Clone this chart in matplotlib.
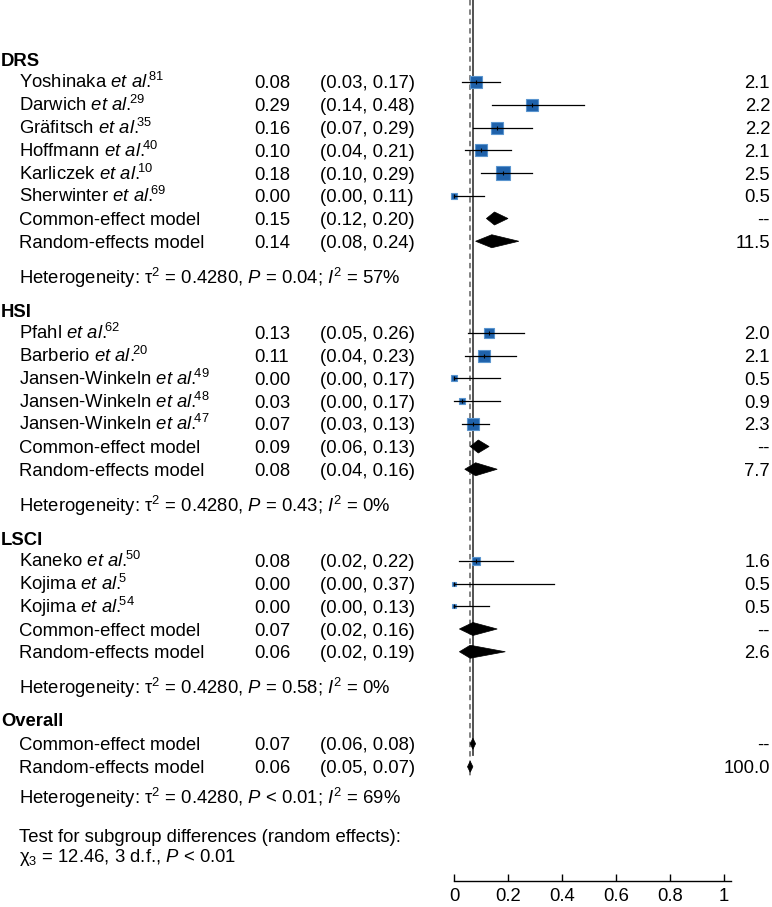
import matplotlib
matplotlib.use("Agg")
import matplotlib.pyplot as plt
from matplotlib.patches import Polygon

plt.rcParams['font.family'] = ['Liberation Sans', 'DejaVu Sans']
plt.rcParams['font.size'] = 13.3
plt.rcParams['mathtext.fontset'] = 'custom'
plt.rcParams['mathtext.rm'] = 'Liberation Sans'
plt.rcParams['mathtext.it'] = 'Liberation Sans:italic'
plt.rcParams['mathtext.bf'] = 'Liberation Sans:bold'

# ---------------- data ----------------
group_names = ['DRS', 'HSI', 'LSCI']

drs_authors = ['Yoshinaka', 'Darwich', 'Gräfitsch', 'Hoffmann', 'Karliczek', 'Sherwinter']
drs_refs = [81, 29, 35, 40, 10, 69]
drs_est = [0.08, 0.29, 0.16, 0.10, 0.18, 0.00]
drs_lo = [0.03, 0.14, 0.07, 0.04, 0.10, 0.00]
drs_hi = [0.17, 0.48, 0.29, 0.21, 0.29, 0.11]
drs_weight = [2.1, 2.2, 2.2, 2.1, 2.5, 0.5]
drs_box = [6.3, 6.3, 6.0, 6.0, 11.1, 1.6]

hsi_authors = ['Pfahl', 'Barberio', 'Jansen-Winkeln', 'Jansen-Winkeln', 'Jansen-Winkeln']
hsi_refs = [62, 20, 49, 48, 47]
hsi_est = [0.13, 0.11, 0.00, 0.03, 0.07]
hsi_lo = [0.05, 0.04, 0.00, 0.00, 0.03]
hsi_hi = [0.26, 0.23, 0.17, 0.17, 0.13]
hsi_weight = [2.0, 2.1, 0.5, 0.9, 2.3]
hsi_box = [5.7, 6.0, 1.6, 1.6, 8.0]

lsci_authors = ['Kaneko', 'Kojima', 'Kojima']
lsci_refs = [50, 5, 54]
lsci_est = [0.08, 0.00, 0.00]
lsci_lo = [0.02, 0.00, 0.00]
lsci_hi = [0.22, 0.37, 0.13]
lsci_weight = [1.6, 0.5, 0.5]
lsci_box = [2.9, 1.2, 1.2]

# common-effect / random-effects summaries: DRS, HSI, LSCI, Overall
common_est = [0.15, 0.09, 0.07, 0.07]
common_lo = [0.12, 0.06, 0.02, 0.06]
common_hi = [0.20, 0.13, 0.16, 0.08]
random_est = [0.14, 0.08, 0.06, 0.06]
random_lo = [0.08, 0.04, 0.02, 0.05]
random_hi = [0.24, 0.16, 0.19, 0.07]
random_weight = ['11.5', '7.7', '2.6', '100.0']
het_tau2 = ['0.4280', '0.4280', '0.4280', '0.4280']
het_p = ['= 0.04', '= 0.43', '= 0.58', '< 0.01']
het_i2 = ['57%', '0%', '0%', '69%']

subgroup_chi = '12.46'
subgroup_df = 3
subgroup_p = '< 0.01'

x_ticks = [0, 0.2, 0.4, 0.6, 0.8, 1]
x_ticklabels = ['0', '0.2', '0.4', '0.6', '0.8', '1']

groups = [
    (drs_authors, drs_refs, drs_est, drs_lo, drs_hi, drs_weight, drs_box),
    (hsi_authors, hsi_refs, hsi_est, hsi_lo, hsi_hi, hsi_weight, hsi_box),
    (lsci_authors, lsci_refs, lsci_est, lsci_lo, lsci_hi, lsci_weight, lsci_box),
]

# ---------------- layout ----------------
W, H = 772, 907
fig = plt.figure(figsize=(W / 100, H / 100), dpi=100)

ax_t = fig.add_axes([0, 0, 1, 1])
ax_t.set_xlim(0, W)
ax_t.set_ylim(H, 0)
ax_t.axis('off')

ax_left_px, ax_right_px, ax_bottom_px = 454, 731, 881
px_per_unit = 270.0
ax = fig.add_axes([ax_left_px / W, (H - ax_bottom_px) / H,
                   (ax_right_px - ax_left_px) / W, ax_bottom_px / H])
ax.set_xlim(0, (ax_right_px - ax_left_px) / px_per_unit)
ax.set_ylim(ax_bottom_px, 0)
ax.patch.set_visible(False)
for s in ['left', 'right', 'top']:
    ax.spines[s].set_visible(False)
ax.spines['bottom'].set_linewidth(1.0)
ax.set_yticks([])
ax.set_xticks(x_ticks)
ax.set_xticklabels(x_ticklabels, fontsize=13.3)
ax.tick_params(axis='x', direction='in', length=5, width=1, pad=5)

X_NAME, X_HEAD, X_EST, X_CI, X_W = 19, 1, 254, 320, 770
STEP = 22.75
BASE = 6.5   # baseline offset from row center
DH = 6.5     # diamond half height
BOX_K = 4.5  # px per sqrt(weight)
BOX_FACE = '#1f62ab'
BOX_EDGE = '#5a95cf'


def row_text(y, label, est, lo, hi, wtxt, indent=True, bold=False):
    ax_t.text(X_NAME if indent else X_HEAD, y + BASE, label, ha='left', va='baseline',
              fontweight='bold' if bold else 'normal')
    if est is not None:
        ax_t.text(X_EST, y + BASE, f'{est:.2f}', ha='left', va='baseline')
        ax_t.text(X_CI, y + BASE, f'({lo:.2f}, {hi:.2f})', ha='left', va='baseline')
    if wtxt is not None:
        ax_t.text(X_W, y + BASE, wtxt, ha='right', va='baseline')


def diamond(y, est, lo, hi, h=DH):
    ax.add_patch(Polygon([(lo, y), (est, y - h), (hi, y), (est, y + h)],
                         closed=True, facecolor='black', edgecolor='black',
                         linewidth=0.5, clip_on=False, zorder=4))


y = 59.5
for gi, (authors, refs, est, lo, hi, wts, box) in enumerate(groups):
    row_text(y, group_names[gi], None, None, None, None, indent=False, bold=True)
    y += 22.5
    for a, r, e, l, h, w, b in zip(authors, refs, est, lo, hi, wts, box):
        label = a + r' $\mathit{et\ al.}\!\!{}^{' + str(r) + '}$'
        row_text(y, label, e, l, h, f'{w:.1f}')
        side = BOX_K * b ** 0.5
        ax.plot([e], [y], marker='s', markersize=side * 0.72, color=BOX_FACE,
                markeredgecolor=BOX_EDGE, markeredgewidth=0.8, clip_on=False, zorder=3)
        ax.plot([l, h], [y, y], color='black', linewidth=0.9, clip_on=False, zorder=5)
        ax.plot([e], [y], marker='|', markersize=3, color='black',
                markeredgewidth=0.8, clip_on=False, zorder=6)
        y += STEP
    row_text(y, 'Common-effect model', common_est[gi], common_lo[gi], common_hi[gi], '--')
    diamond(y, common_est[gi], common_lo[gi], common_hi[gi])
    y += STEP
    row_text(y, 'Random-effects model', random_est[gi], random_lo[gi], random_hi[gi],
             random_weight[gi])
    diamond(y, random_est[gi], random_lo[gi], random_hi[gi])
    y += 36
    ax_t.text(X_NAME, y + BASE,
              'Heterogeneity: τ$^2$ = ' + het_tau2[gi] + ', $P$ ' + het_p[gi]
              + '; $I^2$ = ' + het_i2[gi], ha='left', va='baseline')
    y += 33

# Overall
y_over = y - 1
row_text(y_over, 'Overall', None, None, None, None, indent=False, bold=True)
y_c = y_over + 24
y_r = y_c + 23
row_text(y_c, 'Common-effect model', common_est[3], common_lo[3], common_hi[3], '--')
diamond(y_c, common_est[3], common_lo[3], common_hi[3], h=5.5)
row_text(y_r, 'Random-effects model', random_est[3], random_lo[3], random_hi[3],
         random_weight[3])
diamond(y_r, random_est[3], random_lo[3], random_hi[3], h=5.5)
y_h = y_r + 31
ax_t.text(X_NAME, y_h + BASE,
          'Heterogeneity: τ$^2$ = ' + het_tau2[3] + ', $P$ ' + het_p[3]
          + '; $I^2$ = ' + het_i2[3], ha='left', va='baseline')
y_t = y_h + 37.5
ax_t.text(X_NAME, y_t + BASE, 'Test for subgroup differences (random effects):',
          ha='left', va='baseline')
ax_t.text(X_NAME, y_t + 20 + BASE,
          'χ$_{%d}$ = %s, %d d.f., $P$ %s' % (subgroup_df, subgroup_chi, subgroup_df, subgroup_p),
          ha='left', va='baseline')

# reference lines (overall common: solid, overall random: dashed)
ax.plot([common_est[3], common_est[3]], [0, y_c + 11], color='#444444',
        linewidth=1.3, zorder=2, clip_on=False)
ax.plot([random_est[3], random_est[3]], [0, y_r + 12], color='#777777',
        linewidth=1.3, linestyle=(0, (3, 2.2)), zorder=2, clip_on=False)

fig.savefig('out.png', dpi=100)
